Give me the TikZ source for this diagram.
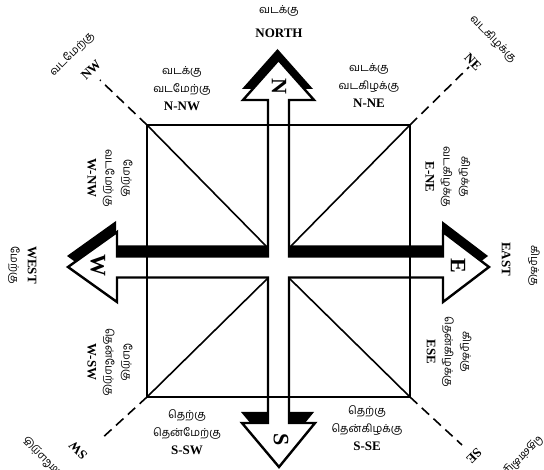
\documentclass[tikz,border=0pt]{standalone}
\usepackage{fontspec}
\setmainfont{Liberation Serif}
\newfontfamily\tamilfont[Script=Tamil]{Hind Madurai}
\usetikzlibrary{positioning}
\newcommand{\tam}[1]{{\mdseries\tamilfont\fontsize{11}{13}\selectfont #1}}

\begin{document}
\begin{tikzpicture}[x=1pt, y=-1pt,
    dirlabel/.style={inner sep=0pt, font=\fontsize{13}{13}\selectfont\bfseries},
    tamil/.style={inner sep=0pt, font=\tamilfont\fontsize{11}{13}\selectfont},
    sublabel/.style={inner sep=0pt, align=center, font=\fontsize{13}{18}\selectfont\bfseries},
    arrowletter/.style={inner sep=0pt, rotate=-90, font=\fontsize{22}{22}\selectfont\bfseries},
    frame/.style={line width=2.6pt},
    diag/.style={line width=1.6pt},
    ray/.style={line width=1.6pt, dash pattern=on 10pt off 6pt},
    crossline/.style={line width=2.4pt, line join=miter, fill=white}
  ]
  \clip (0,0) rectangle (544,470);

  \fill[black, shift={(-1,-11)}] (268,256.5) -- (268,100) -- (243,100) -- (278.5,60) -- (314,100) -- (289,100) -- (289,256.5)
    -- (443,256.5) -- (443,232) -- (489,267) -- (443,302) -- (443,277.5)
    -- (289,277.5) -- (289,423) -- (315,423) -- (279,467) -- (242,423) -- (268,423) -- (268,277.5)
    -- (117,277.5) -- (117,302) -- (68,267) -- (117,232) -- (117,256.5) -- cycle;
  \draw[crossline] (268,256.5) -- (268,100) -- (243,100) -- (278.5,60) -- (314,100) -- (289,100) -- (289,256.5)
    -- (443,256.5) -- (443,232) -- (489,267) -- (443,302) -- (443,277.5)
    -- (289,277.5) -- (289,423) -- (315,423) -- (279,467) -- (242,423) -- (268,423) -- (268,277.5)
    -- (117,277.5) -- (117,302) -- (68,267) -- (117,232) -- (117,256.5) -- cycle;

  \coordinate (tl) at (147,125);
  \coordinate (tr) at (410,125);
  \coordinate (bl) at (147,397);
  \coordinate (br) at (410,397);
  \coordinate (tlin) at (266,246);
  \coordinate (trin) at (291,246);
  \coordinate (blin) at (268,278);
  \coordinate (brin) at (289,278);
  \coordinate (nwend) at (100,80);
  \coordinate (neend) at (469,67);
  \coordinate (swend) at (100,440);
  \coordinate (seend) at (462,445);

  \draw[frame] (tl) rectangle (br);
  \draw[diag] (tl) -- (tlin);
  \draw[diag] (tr) -- (trin);
  \draw[diag] (bl) -- (blin);
  \draw[diag] (br) -- (brin);
  \draw[ray] (tl) -- (nwend);
  \draw[ray] (tr) -- (neend);
  \draw[ray] (bl) -- (swend);
  \draw[ray] (br) -- (seend);

  \node[arrowletter] (nletter) at (279,86) {N};
  \node[arrowletter] (wletter) at (98,266) {W};
  \node[arrowletter] (eletter) at (458,266) {E};
  \node[arrowletter] (sletter) at (281,440) {S};

  \node[tamil] (northta) at (279,11) {வடக்கு};
  \node[dirlabel] (northen) at (279,33) {NORTH};
  \node[dirlabel, rotate=-90] (westen) at (32,265) {WEST};
  \node[tamil, rotate=-90] (westta) at (14,265) {மேற்கு};
  \node[dirlabel, rotate=-90] (easten) at (506,259) {EAST};
  \node[tamil, rotate=-90] (eastta) at (534,266) {கிழக்கு};

  \node[sublabel] (nnw) at (182,89) {\tam{வடக்கு}\\\tam{வடமேற்கு}\\N-NW};
  \node[sublabel] (nne) at (369,85) {\tam{வடக்கு}\\\tam{வடகிழக்கு}\\N-NE};
  \node[sublabel, rotate=-90] (wnw) at (110,178) {\tam{மேற்கு}\\\tam{வடமேற்கு}\\W-NW};
  \node[sublabel, rotate=-90] (wsw) at (110,362) {\tam{மேற்கு}\\\tam{தென்மேற்கு}\\W-SW};
  \node[sublabel, rotate=-90] (ene) at (448,177) {\tam{கிழக்கு}\\\tam{வடகிழக்கு}\\E-NE};
  \node[sublabel, rotate=-90] (ese) at (449,352) {\tam{கிழக்கு}\\\tam{தென்கிழக்கு}\\ESE};
  \node[sublabel] (ssw) at (187,432) {\tam{தெற்கு}\\\tam{தென்மேற்கு}\\S-SW};
  \node[sublabel] (sse) at (367,428) {\tam{தெற்கு}\\\tam{தென்கிழக்கு}\\S-SE};

  \node[dirlabel, rotate=45] (nwen) at (91,70) {NW};
  \node[tamil, rotate=45] (nwta) at (72,54) {வடமேற்கு};
  \node[dirlabel, rotate=-45] (neen) at (473,62) {NE};
  \node[tamil, rotate=-45] (neta) at (493,39) {வடகிழக்கு};
  \node[dirlabel, rotate=135] (swen) at (78,450) {SW};
  \node[tamil, rotate=135] (swta) at (48,463) {தென்மேற்கு};
  \node[dirlabel, rotate=-135] (seen) at (474,456) {SE};
  \node[tamil, rotate=-135] (seta) at (516,463) {தென்கிழக்கு};
\end{tikzpicture}
\end{document}
